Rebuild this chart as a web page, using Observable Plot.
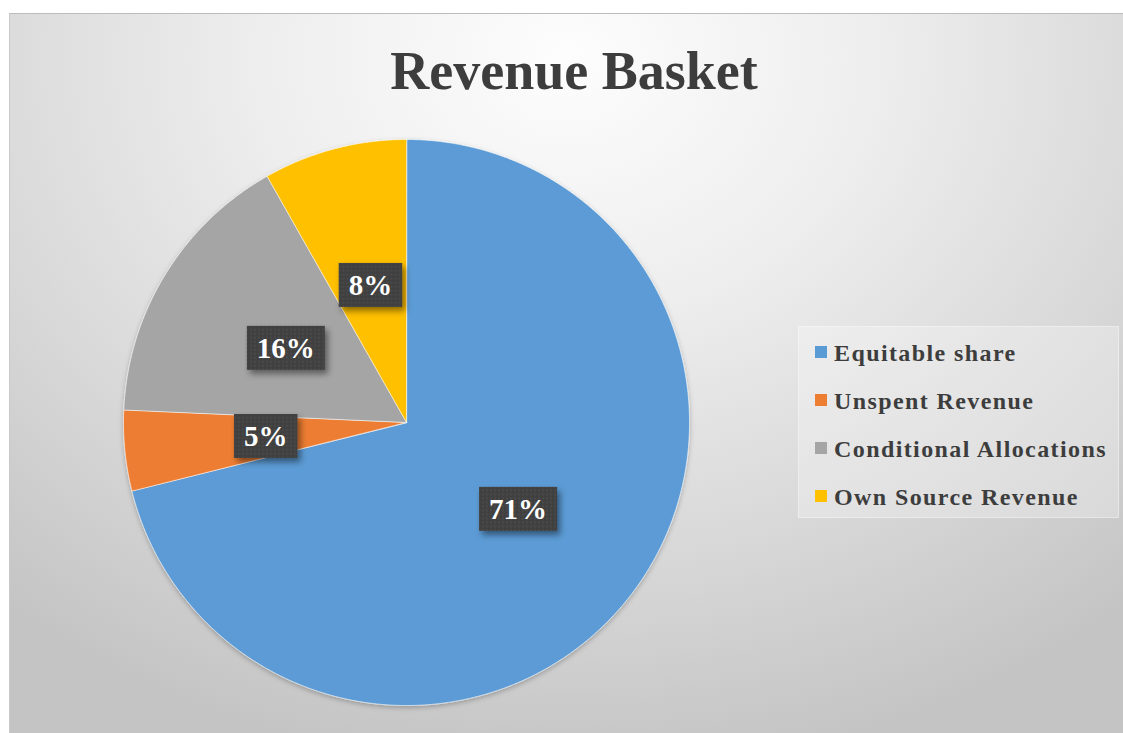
<!DOCTYPE html>
<html><head><meta charset="utf-8">
<script src="https://cdn.jsdelivr.net/npm/d3@7"></script>
<script src="https://cdn.jsdelivr.net/npm/@observablehq/plot@0.6"></script>
<style>
body{margin:0;background:#fff;width:1123px;height:733px;overflow:hidden;font-family:"Liberation Serif","Times New Roman",serif;}
#frame{position:absolute;left:9px;top:13px;width:1114px;height:720px;overflow:hidden;box-sizing:border-box;
background:radial-gradient(ellipse 78% 100% at 50% 6%, #fdfdfd 0%, #eeeeee 35%, #d8d8d8 70%, #c4c4c4 100%);
border-top:1px solid #bcbcbc;border-left:1px solid #c9c9c9;}
#title{position:absolute;left:0;width:1128px;top:30px;line-height:54px;text-align:center;font-weight:bold;font-size:54px;color:#3d3d3d;}
#chart{position:absolute;left:96px;top:108px;width:600px;height:600px;}
#legend{position:absolute;left:788px;top:312px;width:321px;height:192px;box-sizing:border-box;padding-top:2px;
background:rgba(255,255,255,0.28);border:1px solid rgba(255,255,255,0.35);}
.row{position:relative;height:48px;}
.sw{position:absolute;left:16px;top:17px;width:12px;height:12px;}
.lt{position:absolute;left:35px;top:0;line-height:48px;font-size:24px;font-weight:bold;color:#3d3d3d;letter-spacing:1.4px;white-space:nowrap;}
</style></head>
<body>
<div id="frame">
  <div id="title"></div>
  <div id="chart"></div>
  <div id="legend"></div>
</div>
<script>
const title = "Revenue Basket";
const categories = ["Equitable share","Unspent Revenue","Conditional Allocations","Own Source Revenue"];
const values = [71.1, 4.6, 16.1, 8.2];
const colors = ["#5B9BD5","#ED7D31","#A5A5A5","#FFC000"];
const labels = ["71%","5%","16%","8%"];

document.getElementById("title").textContent = title;

const arcs = d3.pie().sort(null).value(d => d)(values);
const slicePts = [];
arcs.forEach((a, i) => {
  slicePts.push({cat: categories[i], x: 0, y: 0});
  const n = Math.max(2, Math.ceil((a.endAngle - a.startAngle) / 0.005));
  for (let k = 0; k <= n; k++) {
    const t = a.startAngle + (a.endAngle - a.startAngle) * k / n;
    slicePts.push({cat: categories[i], x: Math.sin(t), y: Math.cos(t)});
  }
});
const labelPts = arcs.map((a, i) => {
  const m = (a.startAngle + a.endAngle) / 2;
  return {label: labels[i], x: 0.5 * Math.sin(m), y: 0.5 * Math.cos(m)};
});

const svg = Plot.plot({
  width: 600, height: 600, margin: 17,
  style: {background: "transparent", overflow: "visible"},
  x: {domain: [-1, 1], axis: null},
  y: {domain: [-1, 1], axis: null},
  color: {domain: categories, range: colors},
  marks: [
    Plot.line(slicePts, {x: "x", y: "y", z: "cat", fill: "cat", stroke: "white", strokeWidth: 1, strokeOpacity: 0.6, curve: "linear-closed"}),
    Plot.text(labelPts, {x: "x", y: "y", text: "label", fill: "white", fontSize: 29, fontWeight: "bold", fontFamily: "Liberation Serif"})
  ]
});
document.getElementById("chart").appendChild(svg);

const ns = "http://www.w3.org/2000/svg";
const defs = document.createElementNS(ns, "defs");
defs.innerHTML = `
<filter id="boxShadow" x="-30%" y="-30%" width="160%" height="170%">
  <feDropShadow dx="3" dy="4" stdDeviation="3" flood-color="#000" flood-opacity="0.45"/>
</filter>
<filter id="pieShadow" x="-10%" y="-10%" width="120%" height="120%">
  <feDropShadow dx="0" dy="2" stdDeviation="2.5" flood-color="#000" flood-opacity="0.25"/>
</filter>
<pattern id="dots" width="4" height="4" patternUnits="userSpaceOnUse">
  <rect width="4" height="4" fill="#404040"/>
  <circle cx="1" cy="1" r="0.7" fill="#575757"/>
</pattern>`;
svg.insertBefore(defs, svg.firstChild);

const pieG = svg.querySelector('g[aria-label="line"]');
if (pieG) pieG.setAttribute("filter", "url(#pieShadow)");

svg.querySelectorAll('g[aria-label="text"] text').forEach(t => {
  const bb = t.getBBox();
  const r = document.createElementNS(ns, "rect");
  const cy = bb.y + bb.height / 2;
  r.setAttribute("x", bb.x - 10);
  r.setAttribute("width", bb.width + 20);
  r.setAttribute("y", cy - 22);
  r.setAttribute("height", 44);
  r.setAttribute("fill", "url(#dots)");
  r.setAttribute("filter", "url(#boxShadow)");
  const tr = t.getAttribute("transform");
  if (tr) r.setAttribute("transform", tr);
  t.parentNode.insertBefore(r, t);
});

const legend = document.getElementById("legend");
categories.forEach((c, i) => {
  const row = document.createElement("div");
  row.className = "row";
  const sw = document.createElement("div");
  sw.className = "sw"; sw.style.background = colors[i];
  const lt = document.createElement("div");
  lt.className = "lt"; lt.textContent = c;
  row.appendChild(sw); row.appendChild(lt);
  legend.appendChild(row);
});
</script>
</body></html>
